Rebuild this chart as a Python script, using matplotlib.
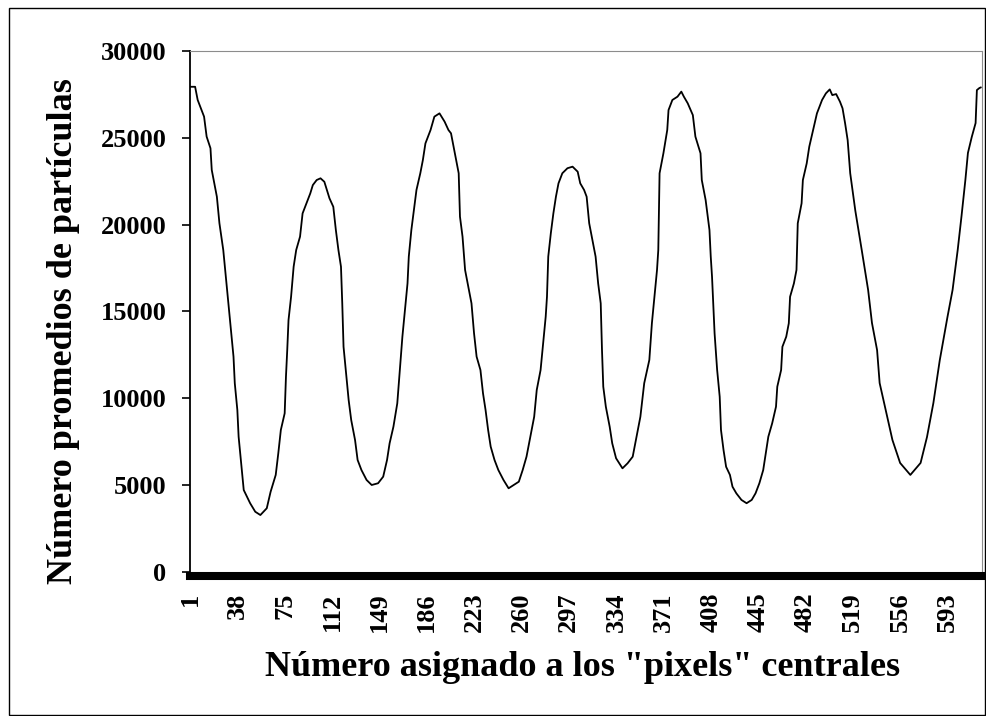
import matplotlib
matplotlib.use("Agg")
import matplotlib.pyplot as plt
from matplotlib.patches import Rectangle

pixelNum = [1, 5, 7, 10, 12, 14, 17, 18, 22, 24, 27, 29, 31, 33, 35, 36, 38, 39, 41, 43,
            48, 52, 56, 61, 64, 68, 70, 72, 75, 76, 77, 78, 80, 82, 84, 87, 89, 92, 95, 97,
            100, 103, 106, 108, 110, 113, 115, 117, 119, 120, 121, 123, 125, 127, 130, 132, 135, 139, 143, 148,
            152, 155, 157, 160, 163, 165, 167, 169, 171, 172, 174, 176, 178, 181, 183, 185, 189, 192, 196, 200,
            203, 205, 208, 211, 212, 214, 216, 219, 221, 223, 225, 228, 230, 232, 234, 236, 239, 242, 246, 250,
            254, 258, 261, 264, 267, 270, 272, 275, 277, 279, 280, 281, 283, 285, 287, 289, 292, 296, 300, 304,
            306, 309, 311, 313, 315, 318, 320, 322, 323, 324, 326, 329, 331, 334, 339, 343, 347, 350, 353, 356,
            360, 362, 364, 366, 367, 368, 371, 374, 375, 378, 382, 385, 387, 390, 394, 396, 400, 401, 404, 407,
            408, 409, 411, 413, 415, 416, 418, 420, 423, 425, 428, 432, 436, 440, 443, 446, 449, 451, 453, 456,
            459, 460, 463, 464, 467, 469, 470, 473, 475, 476, 479, 480, 483, 485, 488, 491, 495, 498, 501, 503,
            506, 509, 511, 513, 515, 517, 521, 526, 531, 534, 538, 540, 546, 550, 556, 564, 572, 577, 582, 587,
            593, 597, 601, 604, 607, 609, 612, 615, 616, 618, 619]
particles = [27940, 27940, 27180, 26600, 26220, 25070, 24400, 23150, 21610, 20080, 18540, 17000, 15470, 13930, 12400, 10870, 9330, 7790, 6260, 4720,
             3960, 3470, 3280, 3670, 4620, 5590, 6830, 8180, 9140, 11250, 12780, 14510, 15850, 17580, 18540, 19310, 20650, 21230, 21800, 22280,
             22570, 22670, 22470, 22000, 21520, 21030, 19690, 18540, 17580, 15470, 12970, 11440, 9900, 8750, 7600, 6450, 5870, 5300, 5010, 5110,
             5490, 6450, 7410, 8370, 9710, 11630, 13550, 15090, 16620, 18160, 19690, 20840, 22000, 22960, 23720, 24680, 25450, 26220, 26410, 25930,
             25450, 25260, 24110, 22960, 20460, 19310, 17390, 16240, 15470, 13740, 12400, 11630, 10290, 9330, 8180, 7220, 6450, 5870, 5300, 4820,
             5010, 5200, 5870, 6640, 7790, 8940, 10480, 11630, 13170, 14700, 15850, 18160, 19500, 20650, 21610, 22380, 22960, 23250, 23340, 23050,
             22380, 22000, 21610, 20080, 19310, 18160, 16620, 15470, 12780, 10670, 9520, 8370, 7410, 6550, 5970, 6260, 6640, 7790, 8940, 10870,
             12210, 14320, 15850, 17390, 18540, 22960, 24110, 25450, 26600, 27180, 27370, 27660, 27370, 26990, 26310, 25070, 24110, 22570, 21420, 19690,
             18160, 17000, 13740, 11630, 10090, 8180, 7020, 6060, 5590, 4910, 4530, 4150, 3960, 4150, 4530, 5110, 5870, 6830, 7790, 8560,
             9520, 10670, 11630, 12970, 13550, 14320, 15850, 16620, 17390, 20080, 21230, 22570, 23530, 24490, 25450, 26410, 27180, 27560, 27790, 27460,
             27520, 27080, 26700, 25840, 24870, 22960, 20800, 18540, 16240, 14340, 12780, 10880, 8925, 7600, 6280, 5590, 6280, 7770, 9730, 12200,
             14680, 16240, 18540, 20500, 22570, 24130, 25050, 25850, 27750, 27870, 27900]

xTicks = [1, 38, 75, 112, 149, 186, 223, 260, 297, 334, 371, 408, 445, 482, 519, 556, 593]
yTicks = [0, 5000, 10000, 15000, 20000, 25000, 30000]

plt.rcParams['font.family'] = ['Liberation Serif', 'DejaVu Serif']
plt.rcParams['font.weight'] = 'bold'

fig = plt.figure(figsize=(9.86, 7.16), dpi=100)
ax = fig.add_axes([190 / 986, 1 - 572 / 716, 792 / 986, 521 / 716])

ax.plot(pixelNum, particles, color='black', linewidth=1.3)

# spine first: set_position resets the tick labels
ax.spines['left'].set_linewidth(1.3)
ax.spines['top'].set_color('#8c8c8c')
ax.spines['right'].set_color('#8c8c8c')
ax.spines['bottom'].set_linewidth(5.8)
ax.spines['bottom'].set_position(('outward', 2.9))

ax.set_xlim(1, 620)
ax.set_ylim(0, 30000)
ax.set_xticks(xTicks)
ax.set_xticklabels([str(t) for t in xTicks], rotation=90, fontsize=19, fontweight='bold')
ax.set_yticks(yTicks)
ax.set_yticklabels([str(t) for t in yTicks], fontsize=19, fontweight='bold')
ax.tick_params(axis='x', length=0, pad=12)
ax.tick_params(axis='y', length=6, width=1.2, direction='out', pad=11)

ax.set_xlabel('Número asignado a los "pixels" centrales', fontsize=26, fontweight='bold', va='center')
ax.xaxis.set_label_coords(0.496, -0.184)
ax.set_ylabel('Número promedios de partículas', fontsize=26, fontweight='bold', va='center')
ax.yaxis.set_label_coords(-0.160, 0.4626)

fig.patches.append(Rectangle((9 / 986, 1 - 715 / 716), 976 / 986, 707 / 716,
                             transform=fig.transFigure, fill=False, edgecolor='black', linewidth=1))

fig.savefig('out.png', dpi=100)
